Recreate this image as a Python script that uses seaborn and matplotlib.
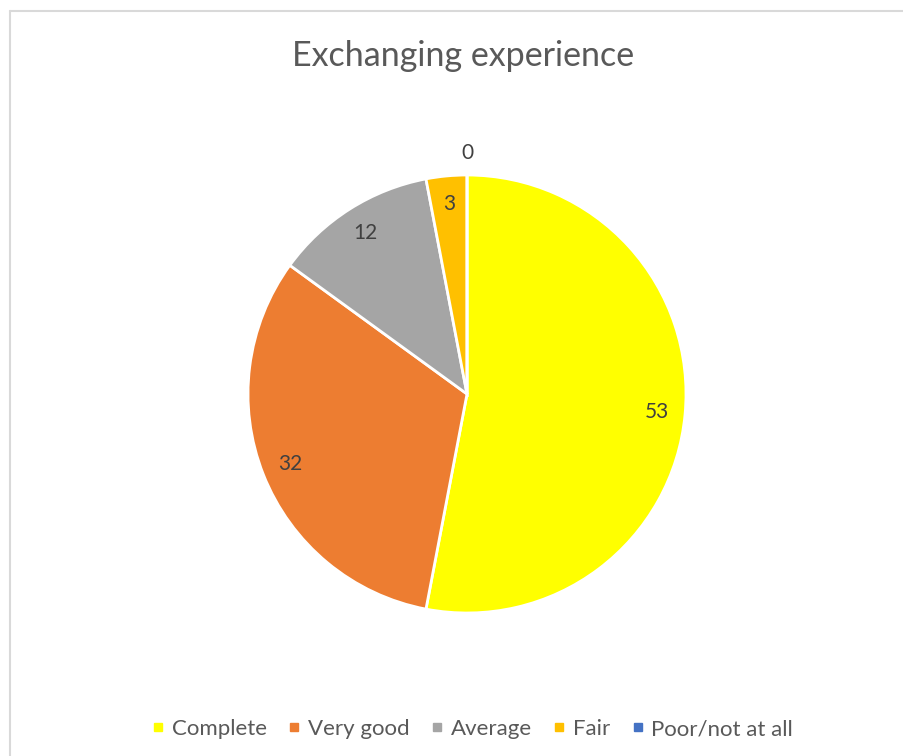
import numpy as np
import matplotlib.pyplot as plt
import seaborn as sns
from matplotlib.lines import Line2D

# data
categories = ['Complete', 'Very good', 'Average', 'Fair', 'Poor/not at all']
values = [53, 32, 12, 3, 0]
colors = ['#FFFF00', '#ED7D31', '#A5A5A5', '#FFC000', '#4472C4']

sns.set_theme(style='white')
plt.rcParams['font.family'] = ['Lato', 'DejaVu Sans']
text_color = '#595959'

fig = plt.figure(figsize=(9.04, 7.56), dpi=100)

# frame around chart area (only top and left edges visible)
top = 1 - 11 / 756
left = 10 / 904
fig.add_artist(Line2D([left, 1.0], [top, top], transform=fig.transFigure,
                      color='#D9D9D9', linewidth=1.5))
fig.add_artist(Line2D([left, left], [0.0, top], transform=fig.transFigure,
                      color='#D9D9D9', linewidth=1.5))

# pie axes: centre (467, 394) px, radius 219 px
R = 219
cx, cy = 467, 394
ax = fig.add_axes([(cx - R) / 904, (756 - cy - R) / 756, 2 * R / 904, 2 * R / 756])

wedges, _ = ax.pie(values, colors=colors, startangle=90, counterclock=False,
                   wedgeprops=dict(edgecolor='white', linewidth=2))
ax.set_xlim(-1, 1)
ax.set_ylim(-1, 1)
ax.axis('off')

# value labels
total = sum(values)
start = 90.0
for v in values:
    mid = start - 360.0 * v / total / 2
    dist = 0.87 if v > 0 else 1.1
    ax.text(dist * np.cos(np.radians(mid)), dist * np.sin(np.radians(mid)), str(v),
            ha='center', va='center', fontsize=15, color='#404040')
    start -= 360.0 * v / total

fig.text(463 / 904, 1 - 56 / 756, 'Exchanging experience', ha='center', va='center',
         fontsize=24.5, color=text_color)

handles = [Line2D([], [], marker='s', linestyle='', markersize=6,
                  markerfacecolor=c, markeredgecolor=c) for c in colors]
fig.legend(handles, categories, loc='center', bbox_to_anchor=(470 / 904, 1 - 729 / 756),
           ncol=5, frameon=False, fontsize=16, labelcolor=text_color,
           handletextpad=0.1, columnspacing=0.75, handlelength=1.0)

fig.savefig('out.png', dpi=100)
